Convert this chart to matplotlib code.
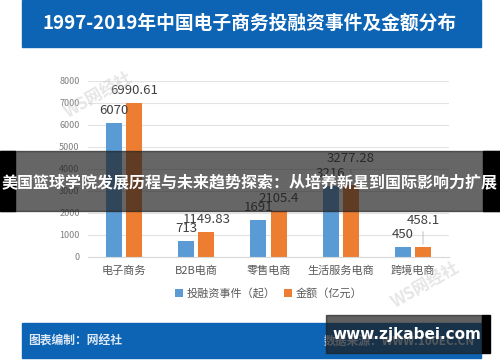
import matplotlib
matplotlib.use("Agg")
import matplotlib.pyplot as plt
import matplotlib.patches as mpatches
import numpy as np

plt.rcParams['font.family'] = ['Noto Sans CJK SC', 'DejaVu Sans']

# data
categories = ["电子商务", "B2B电商", "零售电商", "生活服务电商", "跨境电商"]
events = [6070, 713, 1691, 3216, 450]
amounts = [6990.61, 1149.83, 2105.4, 3277.28, 458.1]
event_labels = ["6070", "713", "1691", "3216", "450"]
amount_labels = ["6990.61", "1149.83", "2105.4", "3277.28", "458.1"]
yticks = [0, 1000, 2000, 3000, 4000, 5000, 6000, 7000, 8000]

title = "1997-2019年中国电子商务投融资事件及金额分布"
overlay = "美国篮球学院发展历程与未来趋势探索：从培养新星到国际影响力扩展"

W, H = 500, 362
fig = plt.figure(figsize=(W / 100, H / 100), dpi=100)
fig.patch.set_facecolor("white")

def px(x, y, w, h):
    # pixel box (top-left origin) -> figure fraction
    return [x / W, 1 - (y + h) / H, w / W, h / H]

blue = "#5B9BD5"
orange = "#ED7D31"
banner = "#0D64B4"

# top banner
b = px(22, 0, 459, 47)
fig.patches.append(mpatches.Rectangle((b[0], b[1]), b[2], b[3], transform=fig.transFigure,
                                      color=banner, zorder=0))
fig.text(250 / W, 1 - 23 / H, title, color="white", fontsize=13.5, fontweight="bold",
         ha="center", va="center")

# bottom banner
b = px(22, 323, 459, 35)
fig.patches.append(mpatches.Rectangle((b[0], b[1]), b[2], b[3], transform=fig.transFigure,
                                      color=banner, zorder=0))
fig.text(28 / W, 1 - 341 / H, "图表编制：网经社", color="#dce8f5", fontsize=8.5,
         fontweight="bold", ha="left", va="center")
fig.text(475 / W, 1 - 341 / H, "数据来源：WWW.100EC.CN", color="#dce8f5", fontsize=8.5,
         fontweight="bold", ha="right", va="center")

# chart
ax = fig.add_axes(px(88, 81, 361, 176))
x = np.arange(len(categories))
bw = 0.22
ax.bar(x - 0.14, events, bw, color=blue, label="投融资事件（起）", zorder=2)
ax.bar(x + 0.14, amounts, bw, color=orange, label="金额（亿元）", zorder=2)

ax.set_xlim(-0.5, len(categories) - 0.5)
ax.set_ylim(0, 8000)
ax.set_yticks(yticks)
ax.set_yticklabels([str(t) for t in yticks], fontsize=6.5, color="#7f7f7f")
ax.set_xticks(x)
ax.set_xticklabels(categories, fontsize=8, color="#595959")
ax.tick_params(length=0, pad=6)
ax.yaxis.grid(True, color="#e3e3e3", linewidth=0.8, zorder=0)
for s in ax.spines.values():
    s.set_visible(False)
ax.spines["bottom"].set_visible(True)
ax.spines["bottom"].set_color("#d9d9d9")

for i in range(len(categories)):
    ax.annotate(event_labels[i], (x[i] - 0.14, events[i]), xytext=(0, 9),
                textcoords="offset points", ha="center", va="center",
                fontsize=9.5, color="#404040")
    off = 19 if amount_labels[i] in ("3277.28", "458.1") else 9
    ax.annotate(amount_labels[i], (x[i] + 0.14, amounts[i]), xytext=(0, off),
                textcoords="offset points", ha="center", va="center",
                fontsize=9.5, color="#404040")
    if off > 9:
        ax.annotate("", (x[i] + 0.14, amounts[i]), xytext=(0, off - 6),
                    textcoords="offset points",
                    arrowprops=dict(arrowstyle="-", color="#bfbfbf", lw=0.7))

ax.legend(loc="upper center", bbox_to_anchor=(0.5, -0.12), ncol=2, frameon=False,
          fontsize=8, handlelength=0.7, handleheight=0.7, handletextpad=0.3,
          columnspacing=0.8, labelcolor="#595959")

# watermarks
fig.text(98 / W, 1 - 95 / H, "WS网经社", fontsize=12, color="#c8c8c8", alpha=0.45,
         rotation=30, ha="center", va="center", fontweight="bold", style="italic")
fig.text(425 / W, 1 - 285 / H, "WS网经社", fontsize=12, color="#c8c8c8", alpha=0.45,
         rotation=30, ha="center", va="center", fontweight="bold", style="italic")

# overlay band
b = px(0, 151, 500, 60)
fig.patches.append(mpatches.Rectangle((b[0], b[1]), b[2], b[3], transform=fig.transFigure,
                                      color="#1e1e1e", alpha=0.68, zorder=10))
b = px(0, 151, 15, 60)
fig.patches.append(mpatches.Rectangle((b[0], b[1]), b[2], b[3], transform=fig.transFigure,
                                      color="black", zorder=11))
b = px(483, 151, 17, 60)
fig.patches.append(mpatches.Rectangle((b[0], b[1]), b[2], b[3], transform=fig.transFigure,
                                      color="black", zorder=11))
fig.text(250 / W, 1 - 183 / H, overlay, color="white", fontsize=11.5, fontweight="bold",
         ha="center", va="center", zorder=12)

# site box
b = px(326, 315, 156, 38)
fig.patches.append(mpatches.Rectangle((b[0], b[1]), b[2], b[3], transform=fig.transFigure,
                                      color="#1e1e1e", alpha=0.7, zorder=10))
b = px(482, 315, 8, 38)
fig.patches.append(mpatches.Rectangle((b[0], b[1]), b[2], b[3], transform=fig.transFigure,
                                      color="black", zorder=11))
fig.text(407 / W, 1 - 334 / H, "www.zjkabei.com", color="white", fontsize=11,
         fontweight="bold", ha="center", va="center", zorder=12, family="DejaVu Sans")

fig.savefig("out.png", dpi=100)
